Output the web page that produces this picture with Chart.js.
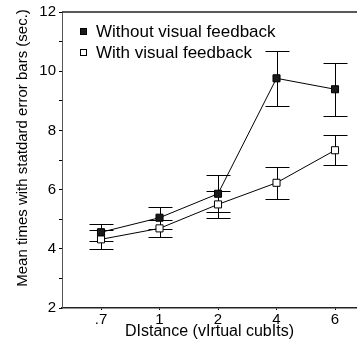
<!DOCTYPE html>
<html>
<head>
<meta charset="utf-8">
<script src="https://cdn.jsdelivr.net/npm/chart.js@4"></script>
<style>
  html, body { margin: 0; padding: 0; background: #fff; }
  #wrap { width: 357px; height: 349px; }
</style>
</head>
<body>
<div id="wrap"><canvas id="c" width="357" height="349"></canvas></div>
<script>
  // distances (virtual cubits)
  var distances = ['.7', '1', '2', '4', '6'];

  // mean times (sec.) and standard errors
  var withoutMeans = [4.56, 5.05, 5.86, 9.76, 9.39];
  var withoutErr = [0.29, 0.37, 0.63, 0.93, 0.89];
  var withMeans = [4.32, 4.69, 5.50, 6.23, 7.33];
  var withErr = [0.31, 0.29, 0.46, 0.54, 0.50];

  var yTicks = [2, 4, 6, 8, 10, 12];

  var FONT = "'Liberation Sans', Arial, sans-serif";
  var ink = '#000';

  function points(vals) {
    return vals.map(function (v, i) { return { x: i, y: v }; });
  }

  // vertical error bars with caps, drawn under the markers
  var errorBars = {
    id: 'errorBars',
    beforeDatasetsDraw: function (chart) {
      var ctx = chart.ctx;
      var xs = chart.scales.x, ys = chart.scales.y;
      ctx.save();
      ctx.strokeStyle = ink;
      ctx.lineWidth = 1;
      chart.data.datasets.forEach(function (ds) {
        ds.data.forEach(function (p, i) {
          var e = ds.errors[i];
          var x = Math.round(xs.getPixelForValue(p.x)) + 0.5;
          var top = Math.round(ys.getPixelForValue(p.y + e)) + 0.5;
          var bot = Math.round(ys.getPixelForValue(p.y - e)) + 0.5;
          var cap = 12;
          ctx.beginPath();
          ctx.moveTo(x, top); ctx.lineTo(x, bot);
          ctx.moveTo(x - cap, top); ctx.lineTo(x + cap, top);
          ctx.moveTo(x - cap, bot); ctx.lineTo(x + cap, bot);
          ctx.stroke();
        });
      });
      ctx.restore();
    }
  };

  // top frame line, legend inside the plot, rotated y title
  var decor = {
    id: 'decor',
    afterDraw: function (chart) {
      var ctx = chart.ctx;
      var ca = chart.chartArea;
      ctx.save();
      ctx.strokeStyle = '#222';
      ctx.lineWidth = 1.5;
      ctx.beginPath();
      ctx.moveTo(ca.left, ca.top);
      ctx.lineTo(chart.width, ca.top);
      ctx.stroke();

      ctx.font = '17px ' + FONT;
      ctx.fillStyle = ink;
      ctx.textBaseline = 'alphabetic';
      ctx.textAlign = 'left';
      chart.data.datasets.forEach(function (ds, i) {
        var cy = ca.top + 19 + i * 21;
        ctx.fillStyle = ds.backgroundColor;
        ctx.strokeStyle = ink;
        ctx.lineWidth = 1;
        ctx.fillRect(ca.left + 18, cy - 3, 7, 7);
        ctx.strokeRect(ca.left + 18.5, cy - 2.5, 6, 6);
        ctx.fillStyle = ink;
        ctx.fillText(ds.label, ca.left + 34, cy + 6);
      });

      ctx.translate(23, 148);
      ctx.rotate(-Math.PI / 2);
      ctx.font = '15px ' + FONT;
      ctx.textAlign = 'center';
      ctx.textBaseline = 'middle';
      ctx.fillText('Mean times with statdard error bars (sec.)', 0, 0);
      ctx.restore();
    }
  };

  new Chart(document.getElementById('c'), {
    type: 'line',
    data: {
      datasets: [
        {
          label: 'Without visual feedback',
          data: points(withoutMeans),
          errors: withoutErr,
          borderColor: ink,
          borderWidth: 1,
          backgroundColor: '#1a1a1a',
          pointStyle: 'rect',
          pointRadius: 5,
          pointBorderColor: ink,
          pointBorderWidth: 1,
          tension: 0
        },
        {
          label: 'With visual feedback',
          data: points(withMeans),
          errors: withErr,
          borderColor: ink,
          borderWidth: 1,
          backgroundColor: '#fff',
          pointStyle: 'rect',
          pointRadius: 5,
          pointBorderColor: ink,
          pointBorderWidth: 1,
          tension: 0
        }
      ]
    },
    options: {
      responsive: false,
      animation: false,
      layout: { autoPadding: false, padding: { top: 12, right: 0, left: 0, bottom: 0 } },
      plugins: {
        legend: { display: false },
        tooltip: { enabled: false }
      },
      scales: {
        x: {
          type: 'linear',
          min: -0.667,
          max: 4.376,
          afterBuildTicks: function (s) {
            s.ticks = distances.map(function (_, i) { return { value: i }; });
          },
          afterFit: function (s) {
            s.height = 41;
            s.paddingLeft = 0;
            s.paddingRight = 0;
          },
          grid: { drawOnChartArea: false, drawTicks: true, tickLength: 2, color: ink },
          border: { display: true, color: '#222', width: 1.5 },
          ticks: {
            autoSkip: false,
            maxRotation: 0,
            padding: 1,
            color: ink,
            font: { family: FONT, size: 15 },
            callback: function (v) { return distances[v]; }
          },
          title: {
            display: true,
            text: 'DIstance (vIrtual cubIts)',
            color: ink,
            font: { family: FONT, size: 16 },
            padding: { top: 0, bottom: 8 }
          }
        },
        y: {
          min: 2,
          max: 12,
          afterFit: function (s) {
            s.width = 62;
            s.paddingTop = 0;
            s.paddingBottom = 0;
          },
          grid: { drawOnChartArea: false, drawTicks: true, tickLength: 3, color: ink },
          border: { display: true, color: '#555', width: 1 },
          ticks: {
            stepSize: 1,
            padding: 3,
            color: ink,
            font: { family: FONT, size: 15 },
            callback: function (v) { return yTicks.indexOf(v) >= 0 ? String(v) : ''; }
          },
          title: { display: false }
        }
      }
    },
    plugins: [errorBars, decor]
  });
</script>
</body>
</html>
